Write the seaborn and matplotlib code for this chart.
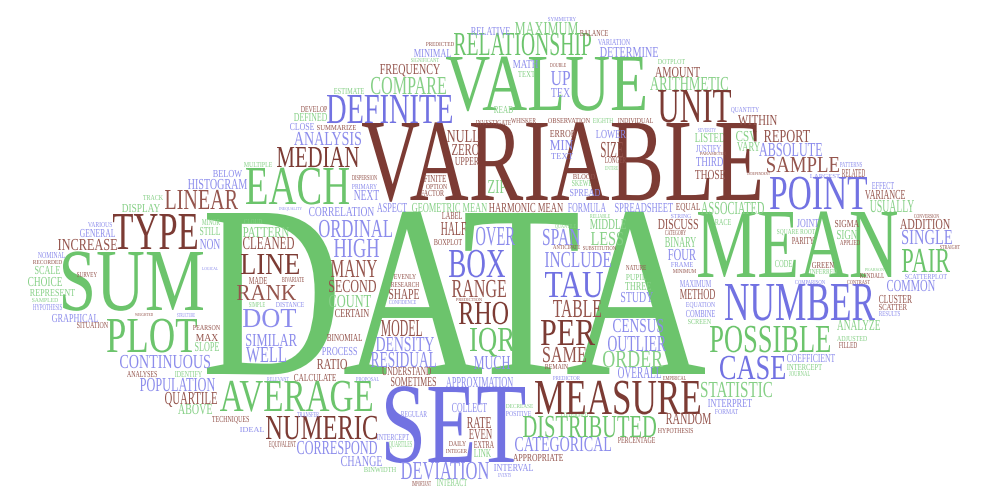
import matplotlib
matplotlib.use("Agg")
import matplotlib.pyplot as plt
import seaborn as sns
from matplotlib.textpath import TextPath
from matplotlib.font_manager import FontProperties
from matplotlib.patches import PathPatch
from matplotlib.transforms import Affine2D

# word cloud terms, grouped by colour
# each box is (left, right, cap top, baseline) in image pixels
green_words = ["DATA", "VALUE", "MEAN", "SUM", "IQR", "EACH", "AVERAGE", "PLOT",
               "RELATIONSHIP", "COMPARE", "MAXIMUM", "ARITHMETIC", "POSSIBLE",
               "DISTRIBUTED", "ORDER", "STATISTIC", "PAIR", "USUALLY", "ASSOCIATED",
               "COUNT", "GEOMETRIC MEAN", "MIDDLE", "LESS", "BINARY", "THREE", "ZIP",
               "DISPLAY", "STILL", "SCALE", "CHOICE", "REPRESENT", "SLOPE", "ABOVE",
               "PATTERN", "DEFINED", "ESTIMATE", "TEXT", "READ", "LISTED", "CSV",
               "VARY", "SIGN", "ANALYZE", "LINK", "INTERACT", "INTERCEPT", "DOTPLOT",
               "TRACK", "MINOR", "SAMPLED", "IDENTIFY", "BINWIDTH", "SKEWED",
               "RELIABLE", "QUANTILE", "PUPIL", "SCREEN", "RACE", "EIGHTH",
               "SQUARE ROOT", "CODE", "INFERRED", "PEARSON", "ADJUSTED", "JOURNAL",
               "MULTIPLE", "SIGNIFICANT", "CLOUD", "ENTIRE", "DECREASE", "CONFIRMED",
               "SIMPLE", "QUARTILES"]
green_boxes = [(207, 705, 213, 374), (446, 645, 57, 110), (698, 897, 212, 277),
               (63, 203, 252, 310), (470, 515, 328, 351), (246, 349, 168, 204),
               (220, 372, 381, 411), (107, 197, 319, 352), (454, 591, 33, 55),
               (371, 446, 77, 94), (515, 578, 22, 35), (650, 728, 77, 90),
               (710, 830, 326, 352), (523, 656, 416, 437), (603, 663, 351, 367),
               (701, 772, 382, 397), (902, 950, 249, 272), (870, 914, 200, 212),
               (701, 764, 202, 214), (329, 371, 295, 307), (412, 487, 203, 212),
               (590, 626, 219, 229), (591, 623, 232, 245), (665, 696, 237, 247),
               (625, 651, 282, 290), (488, 506, 180, 193), (122, 160, 204, 212),
               (200, 220, 227, 235), (35, 60, 266, 274), (28, 62, 277, 286),
               (30, 75, 289, 296), (195, 219, 342, 351), (178, 212, 404, 414),
               (243, 289, 227, 237), (294, 327, 113, 121), (334, 364, 88, 94),
               (518, 535, 71, 77), (494, 513, 106, 113), (695, 725, 133, 142),
               (736, 757, 131, 141), (737, 760, 142, 151), (837, 857, 230, 239),
               (837, 880, 320, 330), (474, 491, 449, 457), (437, 467, 479, 486),
               (787, 822, 364, 370), (658, 685, 59, 64), (143, 163, 195, 200),
               (202, 220, 219, 225), (32, 58, 298, 302), (175, 202, 371, 377),
               (364, 396, 467, 472), (572, 596, 180, 186), (590, 610, 214, 218),
               (555, 576, 224, 228), (626, 646, 274, 280), (688, 711, 319, 324),
               (715, 731, 219, 225), (593, 613, 118, 123), (777, 815, 229, 234),
               (775, 792, 260, 267), (810, 837, 269, 274), (865, 884, 268, 271),
               (837, 867, 336, 341), (789, 810, 371, 376), (244, 272, 162, 167),
               (411, 439, 58, 62), (244, 262, 219, 224), (605, 618, 166, 170),
               (506, 533, 404, 408), (561, 588, 412, 417), (249, 265, 302, 307),
               (389, 412, 441, 447)]

brown_words = ["VARIABLE", "MEASURE", "TYPE", "UNIT", "MEDIAN", "LINEAR", "NUMERIC",
               "RHO", "RANGE", "PER", "LINE", "RANK", "MANY", "SECOND", "SAME",
               "TABLE", "HALF", "MODEL", "SHAPE", "CLEANED", "INCREASE", "FREQUENCY",
               "AMOUNT", "NULL", "ZERO", "UPPER", "REPORT", "SAMPLE", "WITHIN", "SIZE",
               "ERROR", "QUARTILE", "RANDOM", "APPROPRIATE", "CERTAIN", "RATIO",
               "CALCULATE", "SOMETIMES", "UNDERSTAND", "RATE", "EVEN", "EXTRA",
               "DISCUSS", "METHOD", "THOSE", "VARIANCE", "ADDITION", "CLUSTER",
               "SCATTER", "SIGMA", "HARMONIC MEAN", "LABEL", "BOXPLOT", "FINITE",
               "FACTOR", "OPTION", "EQUAL", "RELATED", "MAX", "PREDICTED", "DEVELOP",
               "SUMMARIZE", "INVESTIGATE", "BALANCE", "DOUBLE", "WHISKER",
               "OBSERVATION", "INDIVIDUAL", "LONGER", "PARAMETER", "RECORDED",
               "SURVEY", "SITUATION", "PEARSON", "WEIGHTED", "DISPERSION", "MADE",
               "BIVARIATE", "EVENLY", "RESEARCH", "BLOOD", "CATEGORY", "NATURE",
               "MINIMUM", "SUBSTITUTION", "APPLIED", "GREEN", "KENDALL", "PARITY",
               "INDEPENDENT", "CONVERSION", "STRAIGHT", "ANALYSES", "TECHNIQUES",
               "BINOMIAL", "EQUIVALENT", "DAILY", "INTEGER", "IMPORTANT",
               "HYPOTHESIS", "PERCENTAGE", "FILLED", "REMAIN", "EMPIRICAL",
               "PREDICTION", "ANTICIPATE", "CONTRAST"]
brown_boxes = [(362, 760, 123, 200), (535, 700, 381, 414), (113, 197, 214, 249),
               (658, 731, 90, 122), (277, 359, 147, 167), (165, 238, 190, 209),
               (266, 377, 416, 439), (459, 508, 302, 324), (452, 506, 280, 297),
               (541, 595, 320, 345), (241, 299, 254, 274), (237, 296, 285, 300),
               (331, 377, 260, 277), (329, 376, 280, 292), (543, 586, 347, 362),
               (553, 601, 300, 317), (441, 466, 222, 235), (381, 422, 320, 336),
               (389, 419, 289, 299), (243, 294, 237, 249), (58, 117, 239, 250),
               (380, 440, 64, 74), (655, 700, 67, 77), (447, 479, 130, 142),
               (452, 479, 144, 155), (455, 479, 157, 165), (764, 810, 130, 142),
               (767, 839, 157, 172), (738, 777, 115, 125), (601, 623, 142, 157),
               (550, 576, 130, 137), (165, 217, 392, 404), (666, 711, 413, 424),
               (513, 563, 454, 461), (335, 369, 309, 317), (317, 347, 359, 369),
               (294, 336, 374, 381), (391, 436, 377, 386), (382, 431, 367, 375),
               (467, 491, 417, 428), (469, 492, 429, 439), (474, 494, 441, 448),
               (658, 698, 219, 229), (680, 715, 289, 299), (695, 725, 170, 179),
               (865, 905, 190, 199), (900, 950, 219, 229), (879, 912, 295, 303),
               (879, 907, 304, 310), (835, 859, 220, 227), (489, 563, 203, 212),
               (442, 462, 212, 219), (434, 462, 239, 245), (424, 446, 175, 182),
               (421, 444, 190, 196), (426, 447, 184, 189), (676, 700, 203, 210),
               (842, 865, 169, 177), (196, 218, 334, 341), (426, 454, 42, 46),
               (301, 327, 106, 112), (317, 356, 125, 130), (476, 511, 120, 125),
               (580, 608, 30, 36), (550, 566, 63, 67), (511, 536, 118, 123),
               (548, 590, 118, 123), (618, 653, 118, 123), (605, 626, 157, 163),
               (700, 726, 152, 155), (33, 62, 260, 264), (77, 97, 272, 277),
               (77, 108, 322, 328), (193, 220, 325, 330), (135, 153, 313, 316),
               (352, 377, 175, 180), (249, 267, 277, 284), (282, 304, 277, 282),
               (394, 416, 274, 279), (391, 419, 282, 287), (573, 595, 174, 179),
               (665, 686, 230, 235), (626, 646, 265, 270), (673, 696, 269, 273),
               (583, 616, 246, 250), (840, 860, 240, 245), (812, 834, 262, 268),
               (860, 884, 273, 278), (792, 814, 237, 244), (747, 770, 172, 175),
               (914, 939, 214, 218), (940, 960, 245, 249), (127, 157, 371, 377),
               (212, 249, 416, 422), (327, 362, 334, 341), (269, 296, 441, 447),
               (449, 466, 441, 446), (446, 467, 449, 453), (412, 431, 481, 486),
               (658, 693, 428, 433), (618, 655, 437, 443), (839, 857, 342, 348),
               (545, 568, 364, 369), (663, 686, 376, 380), (456, 482, 298, 301),
               (553, 580, 245, 249), (847, 870, 280, 284)]

blue_words = ["SET", "NUMBER", "POINT", "DEFINITE", "BOX", "TAU", "CASE", "HIGH",
              "ORDINAL", "DOT", "DEVIATION", "CATEGORICAL", "INCLUDE", "SPAN", "OVER",
              "OUTLIER", "CENSUS", "DENSITY", "RESIDUAL", "CONTINUOUS", "POPULATION",
              "CORRESPOND", "CHANGE", "SIMILAR", "WELL", "ANALYSIS", "CORRELATION",
              "HISTOGRAM", "GENERAL", "GRAPHICAL", "SINGLE", "COMMON", "ABSOLUTE",
              "DETERMINE", "UP", "TEX", "MATH", "MIN", "TEXT", "LOWER", "MINIMAL",
              "CLOSE", "NEXT", "ASPECT", "FORMULA", "SPREADSHEET", "SPREAD", "FOUR",
              "STUDY", "MAXIMUM", "COMBINE", "EQUATION", "FRAME", "JOINT",
              "COEFFICIENT", "INTERPRET", "FORMAT", "OVERALL", "APPROXIMATION",
              "MUCH", "COLLECT", "PROCESS", "THIRD", "JUSTIFY", "NON", "INTERVAL",
              "BELOW", "EFFECT", "SCATTERPLOT", "RELATIVE", "SYMMETRY", "VARIATION",
              "QUANTITY", "SEVERITY", "PATTERNS", "VARIOUS", "NOMINAL", "HYPOTHESIS",
              "LOGICAL", "STRUCTURE", "INEQUALITY", "PRIMARY", "DISTANCE",
              "CONFIDENCE", "STRING", "LARGEST", "COMPARISON", "RESULTS", "IDEAL",
              "REGULAR", "INTERCEPT", "TRANSFER", "POSITIVE", "EVENTS", "PREDICTOR",
              "RELEVANT", "PROPOSAL"]
blue_boxes = [(386, 525, 387, 462), (725, 875, 284, 320), (770, 867, 177, 209),
              (327, 452, 95, 123), (449, 505, 250, 277), (545, 603, 272, 297),
              (720, 785, 356, 379), (334, 379, 239, 257), (319, 392, 220, 237),
              (243, 296, 309, 327), (401, 489, 462, 479), (515, 611, 437, 451),
              (545, 611, 252, 267), (543, 580, 229, 245), (476, 515, 227, 245),
              (608, 666, 336, 351), (613, 663, 319, 332), (376, 434, 337, 351),
              (371, 436, 352, 367), (120, 210, 355, 368), (140, 215, 378, 391),
              (297, 377, 441, 454), (341, 382, 456, 466), (246, 297, 334, 346),
              (246, 286, 347, 362), (294, 361, 132, 145), (309, 374, 207, 216),
              (188, 247, 179, 189), (80, 115, 229, 237), (52, 98, 314, 322),
              (902, 952, 230, 244), (887, 935, 280, 291), (759, 822, 143, 156),
              (600, 658, 47, 57), (551, 570, 71, 85), (551, 570, 88, 97),
              (513, 538, 60, 68), (550, 573, 140, 150), (551, 573, 153, 159),
              (596, 626, 130, 138), (414, 451, 49, 57), (290, 314, 123, 130),
              (354, 379, 190, 200), (377, 407, 203, 212), (568, 606, 203, 212),
              (615, 673, 203, 212), (570, 600, 189, 196), (668, 696, 249, 260),
              (621, 653, 292, 302), (680, 711, 280, 287), (686, 715, 310, 317),
              (686, 715, 302, 307), (671, 693, 262, 267), (797, 819, 219, 227),
              (787, 835, 354, 362), (708, 752, 399, 407), (715, 738, 409, 414),
              (618, 661, 367, 378), (446, 513, 377, 387), (474, 510, 356, 369),
              (452, 487, 403, 412), (322, 357, 347, 355), (696, 723, 157, 166),
              (696, 721, 145, 152), (200, 220, 239, 249), (494, 533, 464, 471),
              (213, 242, 170, 177), (872, 894, 182, 189), (905, 947, 274, 279),
              (471, 510, 27, 35), (548, 576, 17, 21), (598, 630, 39, 45),
              (731, 759, 107, 112), (698, 716, 128, 132), (840, 862, 162, 167),
              (88, 112, 222, 227), (38, 65, 252, 258), (33, 62, 304, 310),
              (202, 218, 267, 270), (177, 195, 313, 317), (279, 302, 207, 210),
              (352, 377, 184, 189), (276, 304, 302, 307), (389, 416, 300, 304),
              (671, 691, 214, 218), (810, 840, 174, 178), (795, 825, 280, 284),
              (879, 900, 311, 316), (240, 264, 427, 432), (401, 427, 411, 417),
              (377, 409, 434, 440), (297, 319, 412, 417), (506, 531, 411, 416),
              (498, 511, 473, 477), (553, 580, 376, 380), (267, 289, 377, 381),
              (356, 379, 377, 381)]

sns.set_theme(style="white")
palette = {"green": ("#6cc46c", "#86d086"),
           "brown": ("#7c3b34", "#94544c"),
           "blue": ("#7272e2", "#8c8cec")}

fig = plt.figure(figsize=(9.96, 5.01), dpi=100)
ax = fig.add_axes([0, 0, 1, 1])
ax.set_xlim(0, 996)
ax.set_ylim(501, 0)
ax.axis("off")

fp = FontProperties(family="Liberation Serif")
cap = TextPath((0, 0), "H", size=100, prop=fp).get_extents().height


def draw_word(word, box, color):
    x0, x1, top, base = box
    path = TextPath((0, 0), word, size=100, prop=fp)
    ext = path.get_extents()
    sx = (x1 - x0) / ext.width
    sy = (base - top) / cap
    tr = Affine2D().translate(-ext.x0, 0).scale(sx, -sy).translate(x0, base)
    ax.add_patch(PathPatch(tr.transform_path(path), facecolor=color, lw=0))


for hue, words, boxes in [("green", green_words, green_boxes),
                          ("brown", brown_words, brown_boxes),
                          ("blue", blue_words, blue_boxes)]:
    dark, light = palette[hue]
    for w, b in zip(words, boxes):
        draw_word(w, b, dark if b[3] - b[2] >= 20 else light)

fig.savefig("out.png", dpi=100, facecolor="white")
